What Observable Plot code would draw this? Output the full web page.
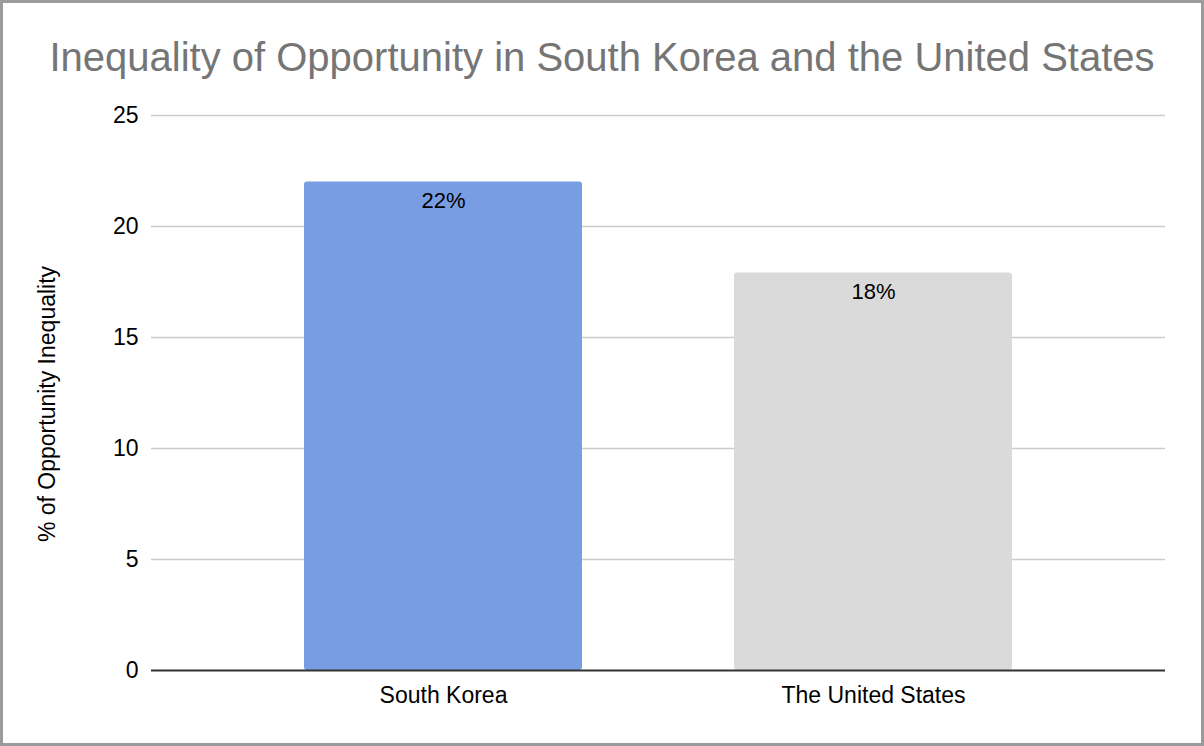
<!DOCTYPE html>
<html>
<head>
<meta charset="utf-8">
<script src="https://cdn.jsdelivr.net/npm/d3@7"></script>
<script src="https://cdn.jsdelivr.net/npm/@observablehq/plot@0.6"></script>
<style>
  html, body { margin: 0; padding: 0; background: #fff; }
  #frame {
    width: 1204px; height: 746px; box-sizing: border-box;
    border: 3px solid #9b9b9b; background: #fff; overflow: hidden;
  }
  #title {
    box-sizing: border-box; height: 97px; padding-top: 34px;
    line-height: 40px; text-align: center;
    font-family: "Liberation Sans", Arial, sans-serif; font-size: 40px;
    color: #757575; white-space: nowrap;
  }
  #chart svg { display: block; }
</style>
</head>
<body>
<div id="frame">
  <div id="title">Inequality of Opportunity in South Korea and the United States</div>
  <div id="chart"></div>
</div>
<script>
const categories = ["South Korea", "The United States"];
const values = [22, 17.9];
const valueLabels = ["22%", "18%"];
const yTicks = [0, 5, 10, 15, 20, 25];
const yLabel = "% of Opportunity Inequality";

const barColors = ["#789de3", "#dadada"];

const rows = categories.map((c, i) => ({country: c, value: values[i], label: valueLabels[i]}));

const chart = Plot.plot({
  width: 1198,
  height: 643,
  marginTop: 15,
  marginBottom: 73,
  marginLeft: 148,
  marginRight: 36,
  style: {fontFamily: "'Liberation Sans', Arial, sans-serif", fontSize: "23px", color: "#000", background: "#fff"},
  x: {domain: categories, padding: 0.354, label: null, tickSize: 0, tickPadding: 16},
  y: {domain: [0, 25], ticks: yTicks, label: null, tickSize: 0, tickPadding: 13},
  color: {domain: categories, range: barColors},
  marks: [
    Plot.ruleY(yTicks.filter(d => d > 0), {stroke: "#cccccc", strokeWidth: 1.3}),
    Plot.barY(rows, {x: "country", y: "value", fill: "country", rx: 3}),
    Plot.ruleY([0], {stroke: "#333333", strokeWidth: 2}),
    Plot.text(rows, {x: "country", y: "value", text: "label", dy: 19, fontSize: 22, fill: "#000"}),
    Plot.text([yLabel], {text: d => d, frameAnchor: "left", textAnchor: "middle", dx: -104, dy: 11, rotate: -90, fontSize: 23, fill: "#000"})
  ]
});
document.getElementById("chart").appendChild(chart);
</script>
</body>
</html>
